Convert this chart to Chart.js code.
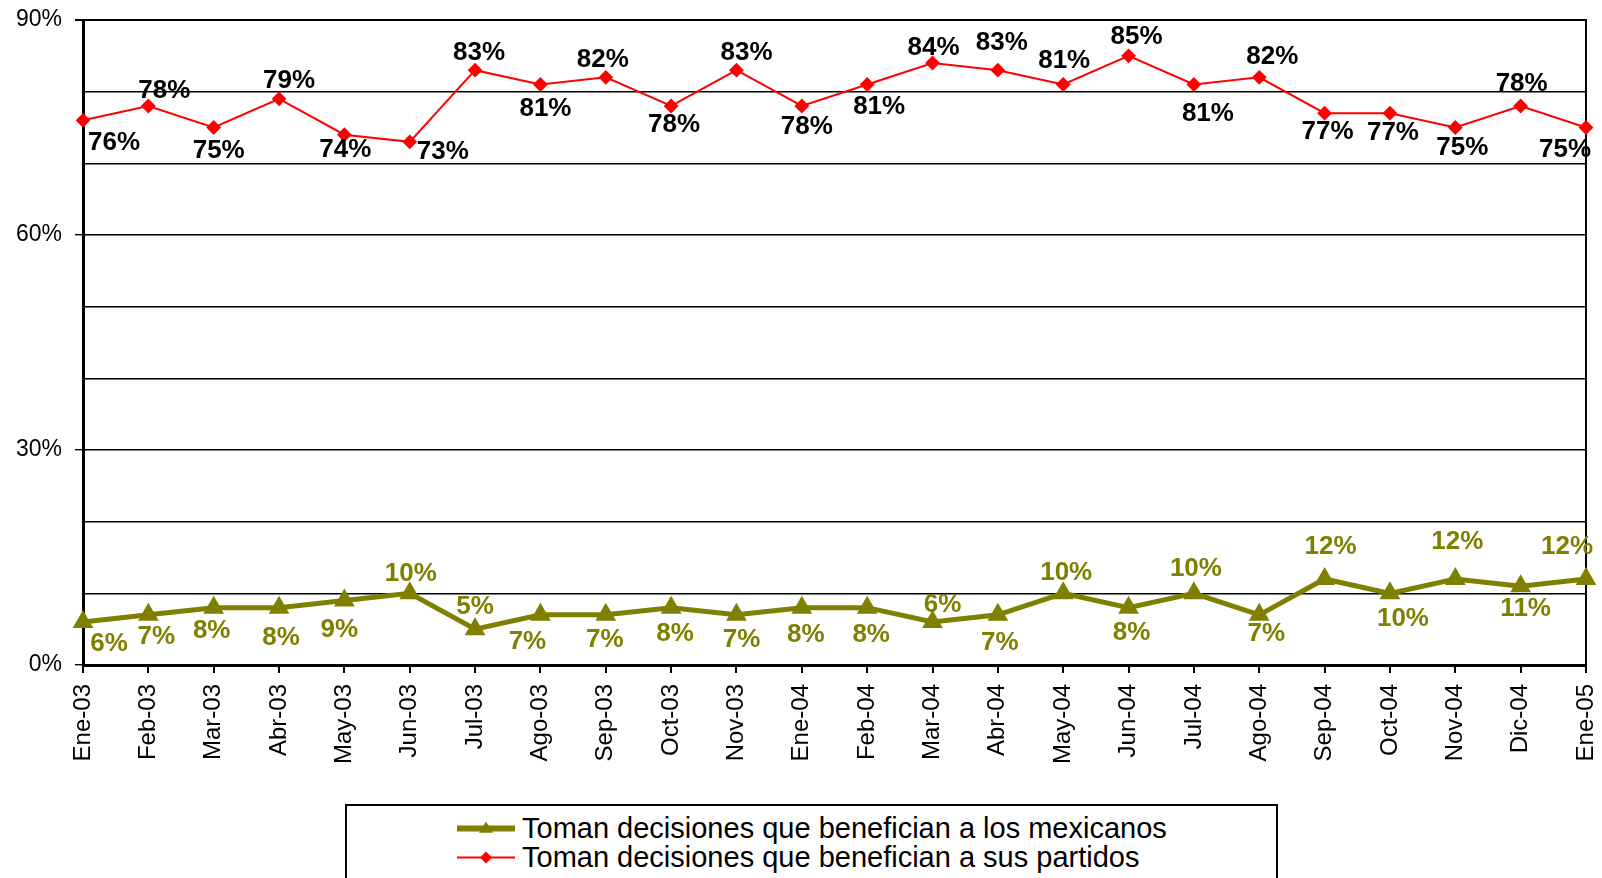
<!DOCTYPE html>
<html>
<head>
<meta charset="utf-8">
<script src="https://cdn.jsdelivr.net/npm/chart.js@4.4.0/dist/chart.umd.min.js"></script>
<style>
  html, body { margin: 0; padding: 0; background: #fff; }
  #wrap { position: relative; width: 1602px; height: 878px; overflow: hidden; }
  #legend {
    position: absolute; left: 345px; top: 804px; width: 933px; height: 100px;
    border: 2px solid #000; box-sizing: border-box; background: #fff;
    font-family: Arial, "Liberation Sans", sans-serif; font-size: 29px; color: #000;
  }
  .row { position: absolute; left: 110px; height: 29px; line-height: 29px; white-space: nowrap; }
  .mark { position: absolute; left: 0; width: 58px; height: 29px; }
  .row span.txt { position: absolute; left: 65px; top: 0; }
</style>
</head>
<body>
<div id="wrap">
  <canvas id="chart"></canvas>
  <div id="legend">
    <div class="row" style="top: 8px;">
      <canvas class="mark" id="mk1" width="58" height="29"></canvas>
      <span class="txt">Toman decisiones que benefician a los mexicanos</span>
    </div>
    <div class="row" style="top: 37px;">
      <canvas class="mark" id="mk2" width="58" height="29"></canvas>
      <span class="txt">Toman decisiones que benefician a sus partidos</span>
    </div>
  </div>
</div>
<script>
const months = ["Ene-03","Feb-03","Mar-03","Abr-03","May-03","Jun-03","Jul-03","Ago-03","Sep-03","Oct-03","Nov-03","Ene-04",
  "Feb-04","Mar-04","Abr-04","May-04","Jun-04","Jul-04","Ago-04","Sep-04","Oct-04","Nov-04","Dic-04","Ene-05"];
const mexicanos = [6,7,8,8,9,10,5,7,7,8,7,8,8,6,7,10,8,10,7,12,10,12,11,12];
const partidos = [76,78,75,79,74,73,83,81,82,78,83,78,81,84,83,81,85,81,82,77,77,75,78,75];
const yTicks = [0,30,60,90];

// label offsets from each point (dx, dy)
const mexLabelPos = [[26,22],[8,22],[-2,23],[2,30],[-5,29],[1,-20],[0,-22],[-13,27],[-1,25],[4,26],[5,25],[4,27],
  [4,27],[10,-17],[2,28],[3,-21],[3,25],[2,-25],[7,19],[6,-32],[13,25],[2,-37],[5,23],[-19,-32]];
const parLabelPos = [[31,22],[16,-15],[5,23],[10,-18],[1,15],[33,10],[4,-17],[5,24],[-3,-18],[3,19],[10,-17],[5,21],
  [12,22],[1,-15],[4,-27],[1,-24],[8,-19],[14,29],[13,-21],[3,19],[3,20],[7,20],[1,-22],[-21,22]];

const OLIVE = "#808000";
const RED = "#FF0000";
const FONT = 'Arial, "Liberation Sans", sans-serif';

const pointLabels = {
  id: "pointLabels",
  afterDatasetsDraw(chart) {
    const ctx = chart.ctx;
    ctx.save();
    ctx.font = "bold 26px " + FONT;
    ctx.textAlign = "center";
    ctx.textBaseline = "middle";
    chart.data.datasets.forEach((ds, i) => {
      const meta = chart.getDatasetMeta(i);
      ctx.fillStyle = ds.labelColor;
      meta.data.forEach((pt, j) => {
        const off = ds.labelPos[j];
        ctx.fillText(ds.data[j] + "%", pt.x + off[0], pt.y + off[1]);
      });
    });
    ctx.restore();
  }
};

const frame = {
  id: "frame",
  beforeDatasetsDraw(chart) {
    const a = chart.chartArea, ctx = chart.ctx;
    ctx.save();
    ctx.strokeStyle = "#000";
    ctx.lineWidth = 2;
    ctx.beginPath();
    ctx.moveTo(a.left, a.top);
    ctx.lineTo(a.right, a.top);
    ctx.lineTo(a.right, a.bottom);
    ctx.stroke();
    ctx.restore();
  }
};

new Chart(document.getElementById("chart"), {
  type: "line",
  data: {
    labels: months,
    datasets: [
      {
        label: "Toman decisiones que benefician a los mexicanos",
        data: mexicanos,
        borderColor: OLIVE, backgroundColor: OLIVE,
        borderWidth: 5, pointStyle: "triangle", pointRadius: 7, pointHoverRadius: 7,
        labelColor: OLIVE, labelPos: mexLabelPos
      },
      {
        label: "Toman decisiones que benefician a sus partidos",
        data: partidos,
        borderColor: RED, backgroundColor: RED,
        borderWidth: 2, pointStyle: "rectRot", pointRadius: 6, pointHoverRadius: 6,
        labelColor: "#000", labelPos: parLabelPos
      }
    ]
  },
  options: {
    responsive: true,
    maintainAspectRatio: false,
    animation: false,
    layout: { padding: { top: 20, left: 0, right: 16, bottom: 0 } },
    plugins: { legend: { display: false }, tooltip: { enabled: false } },
    scales: {
      x: {
        offset: false,
        afterFit: s => { s.height = 213; s.paddingLeft = 0; s.paddingRight = 0; },
        grid: { drawOnChartArea: false, color: "#000", tickLength: 8, lineWidth: 2 },
        border: { color: "#000", width: 3 },
        ticks: {
          autoSkip: false, minRotation: 90, maxRotation: 90, padding: 11,
          color: "#000", font: { family: FONT, size: 24 }
        }
      },
      y: {
        min: 0, max: 90,
        afterFit: s => { s.width = 83; s.paddingTop = 0; s.paddingBottom = 0; },
        grid: {
          color: "#000",
          lineWidth: c => (c.tick && c.tick.value === 90 ? 2 : 1.4),
          tickColor: c => (yTicks.includes(c.tick.value) ? "#000" : "rgba(0,0,0,0)"),
          tickLength: 8
        },
        border: { color: "#000", width: 3 },
        ticks: {
          stepSize: 10, padding: 13, color: "#000",
          font: { family: FONT, size: 23 },
          callback: v => (yTicks.includes(v) ? v + "%" : "")
        }
      }
    }
  },
  plugins: [pointLabels, frame]
});

// legend markers
function drawMark(id, color, lw, style, r) {
  const c = document.getElementById(id).getContext("2d");
  c.strokeStyle = color; c.fillStyle = color; c.lineWidth = lw;
  c.beginPath(); c.moveTo(0, 14.5); c.lineTo(58, 14.5); c.stroke();
  c.beginPath();
  if (style === "triangle") {
    c.moveTo(29, 14.5 - r); c.lineTo(29 + r, 14.5 + r * 0.6); c.lineTo(29 - r, 14.5 + r * 0.6);
  } else {
    c.moveTo(29, 14.5 - r); c.lineTo(29 + r, 14.5); c.lineTo(29, 14.5 + r); c.lineTo(29 - r, 14.5);
  }
  c.closePath(); c.fill();
}
drawMark("mk1", OLIVE, 6, "triangle", 7);
drawMark("mk2", RED, 2, "diamond", 6);
</script>
</body>
</html>
